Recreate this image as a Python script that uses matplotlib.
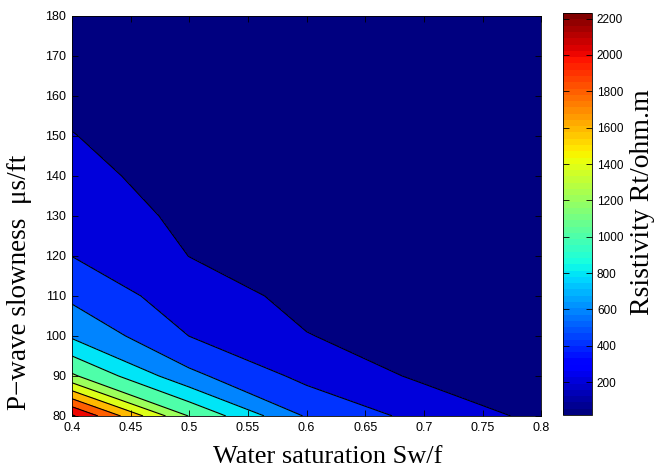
import numpy as np
import matplotlib.pyplot as plt
from matplotlib.colors import Normalize

# grid
sw = [0.4, 0.5, 0.6, 0.7, 0.8]
slowness = [80, 90, 100, 110, 120, 130, 140, 150, 160, 170, 180]

# resistivity along each Sw column, bottom (80) to top (180)
rt_sw04 = [2230, 1230, 770, 557, 398, 315, 250, 205, 165, 135, 110]
rt_sw05 = [1190, 650, 398, 290, 198, 160, 132, 110, 92, 78, 66]
rt_sw06 = [580, 345, 206, 150, 125, 100, 82, 68, 56, 47, 40]
rt_sw07 = [334, 167, 125, 95, 76, 62, 51, 42, 35, 29, 25]
rt_sw08 = [153, 110, 80, 62, 50, 41, 34, 29, 25, 22, 19]

levels = [200, 400, 600, 800, 1000, 1200, 1400, 1600, 1800, 2000, 2200]
cbar_ticks = [200, 400, 600, 800, 1000, 1200, 1400, 1600, 1800, 2000, 2200]

X, Y = np.meshgrid(sw, slowness)
Z = np.column_stack([rt_sw04, rt_sw05, rt_sw06, rt_sw07, rt_sw08])

zmin, zmax = Z.min(), Z.max()
cmap = plt.get_cmap('jet', 64)
norm = Normalize(vmin=zmin, vmax=zmax)

# matlab style: each band takes the colour of its lower level
bounds = [zmin - 1] + levels + [zmax + 1]
lower = [zmin] + levels
band_colors = [cmap(norm(v)) for v in lower]

fig = plt.figure(figsize=(6.6, 4.7), dpi=100)
ax = fig.add_axes([0.109, 0.115, 0.711, 0.851])
cax = fig.add_axes([0.853, 0.117, 0.044, 0.855])

ax.contourf(X, Y, Z, levels=bounds, colors=band_colors)
ax.contour(X, Y, Z, levels=levels, colors='black', linewidths=0.8)

ax.set_xlim(0.4, 0.8)
ax.set_ylim(80, 180)
ax.set_xticks([0.4, 0.45, 0.5, 0.55, 0.6, 0.65, 0.7, 0.75, 0.8])
ax.set_xticklabels(['0.4', '0.45', '0.5', '0.55', '0.6', '0.65', '0.7', '0.75', '0.8'])
ax.set_yticks(slowness)
ax.tick_params(direction='in', length=4, width=0.6, top=True, right=True,
               labelsize=9, pad=4)
for lab in ax.get_xticklabels() + ax.get_yticklabels():
    lab.set_family('Liberation Sans')
for s in ax.spines.values():
    s.set_linewidth(0.6)

serif = 'Liberation Serif'
ax.set_xlabel('Water saturation Sw/f', family=serif, fontsize=19)
ax.xaxis.set_label_coords(0.545, -0.075, transform=ax.transAxes)
ax.xaxis.label.set_va('top')
ax.set_ylabel('P\u2212wave slowness  \u03bcs/ft', family=serif, fontsize=19.5)
ax.yaxis.set_label_coords(-0.085, 0.335, transform=ax.transAxes)

sm = plt.cm.ScalarMappable(norm=norm, cmap=cmap)
cb = fig.colorbar(sm, cax=cax)
cb.set_ticks(cbar_ticks)
cb.ax.tick_params(direction='in', length=4, width=0.6, labelsize=8.5, left=True, right=True)
for lab in cb.ax.get_yticklabels():
    lab.set_family('Liberation Sans')
cb.outline.set_linewidth(0.6)
cb.set_label('Rsistivity Rt/ohm.m', family=serif, fontsize=20)
cb.ax.yaxis.set_label_coords(2.3, 0.53, transform=cb.ax.transAxes)

fig.savefig('out.png', dpi=100)
